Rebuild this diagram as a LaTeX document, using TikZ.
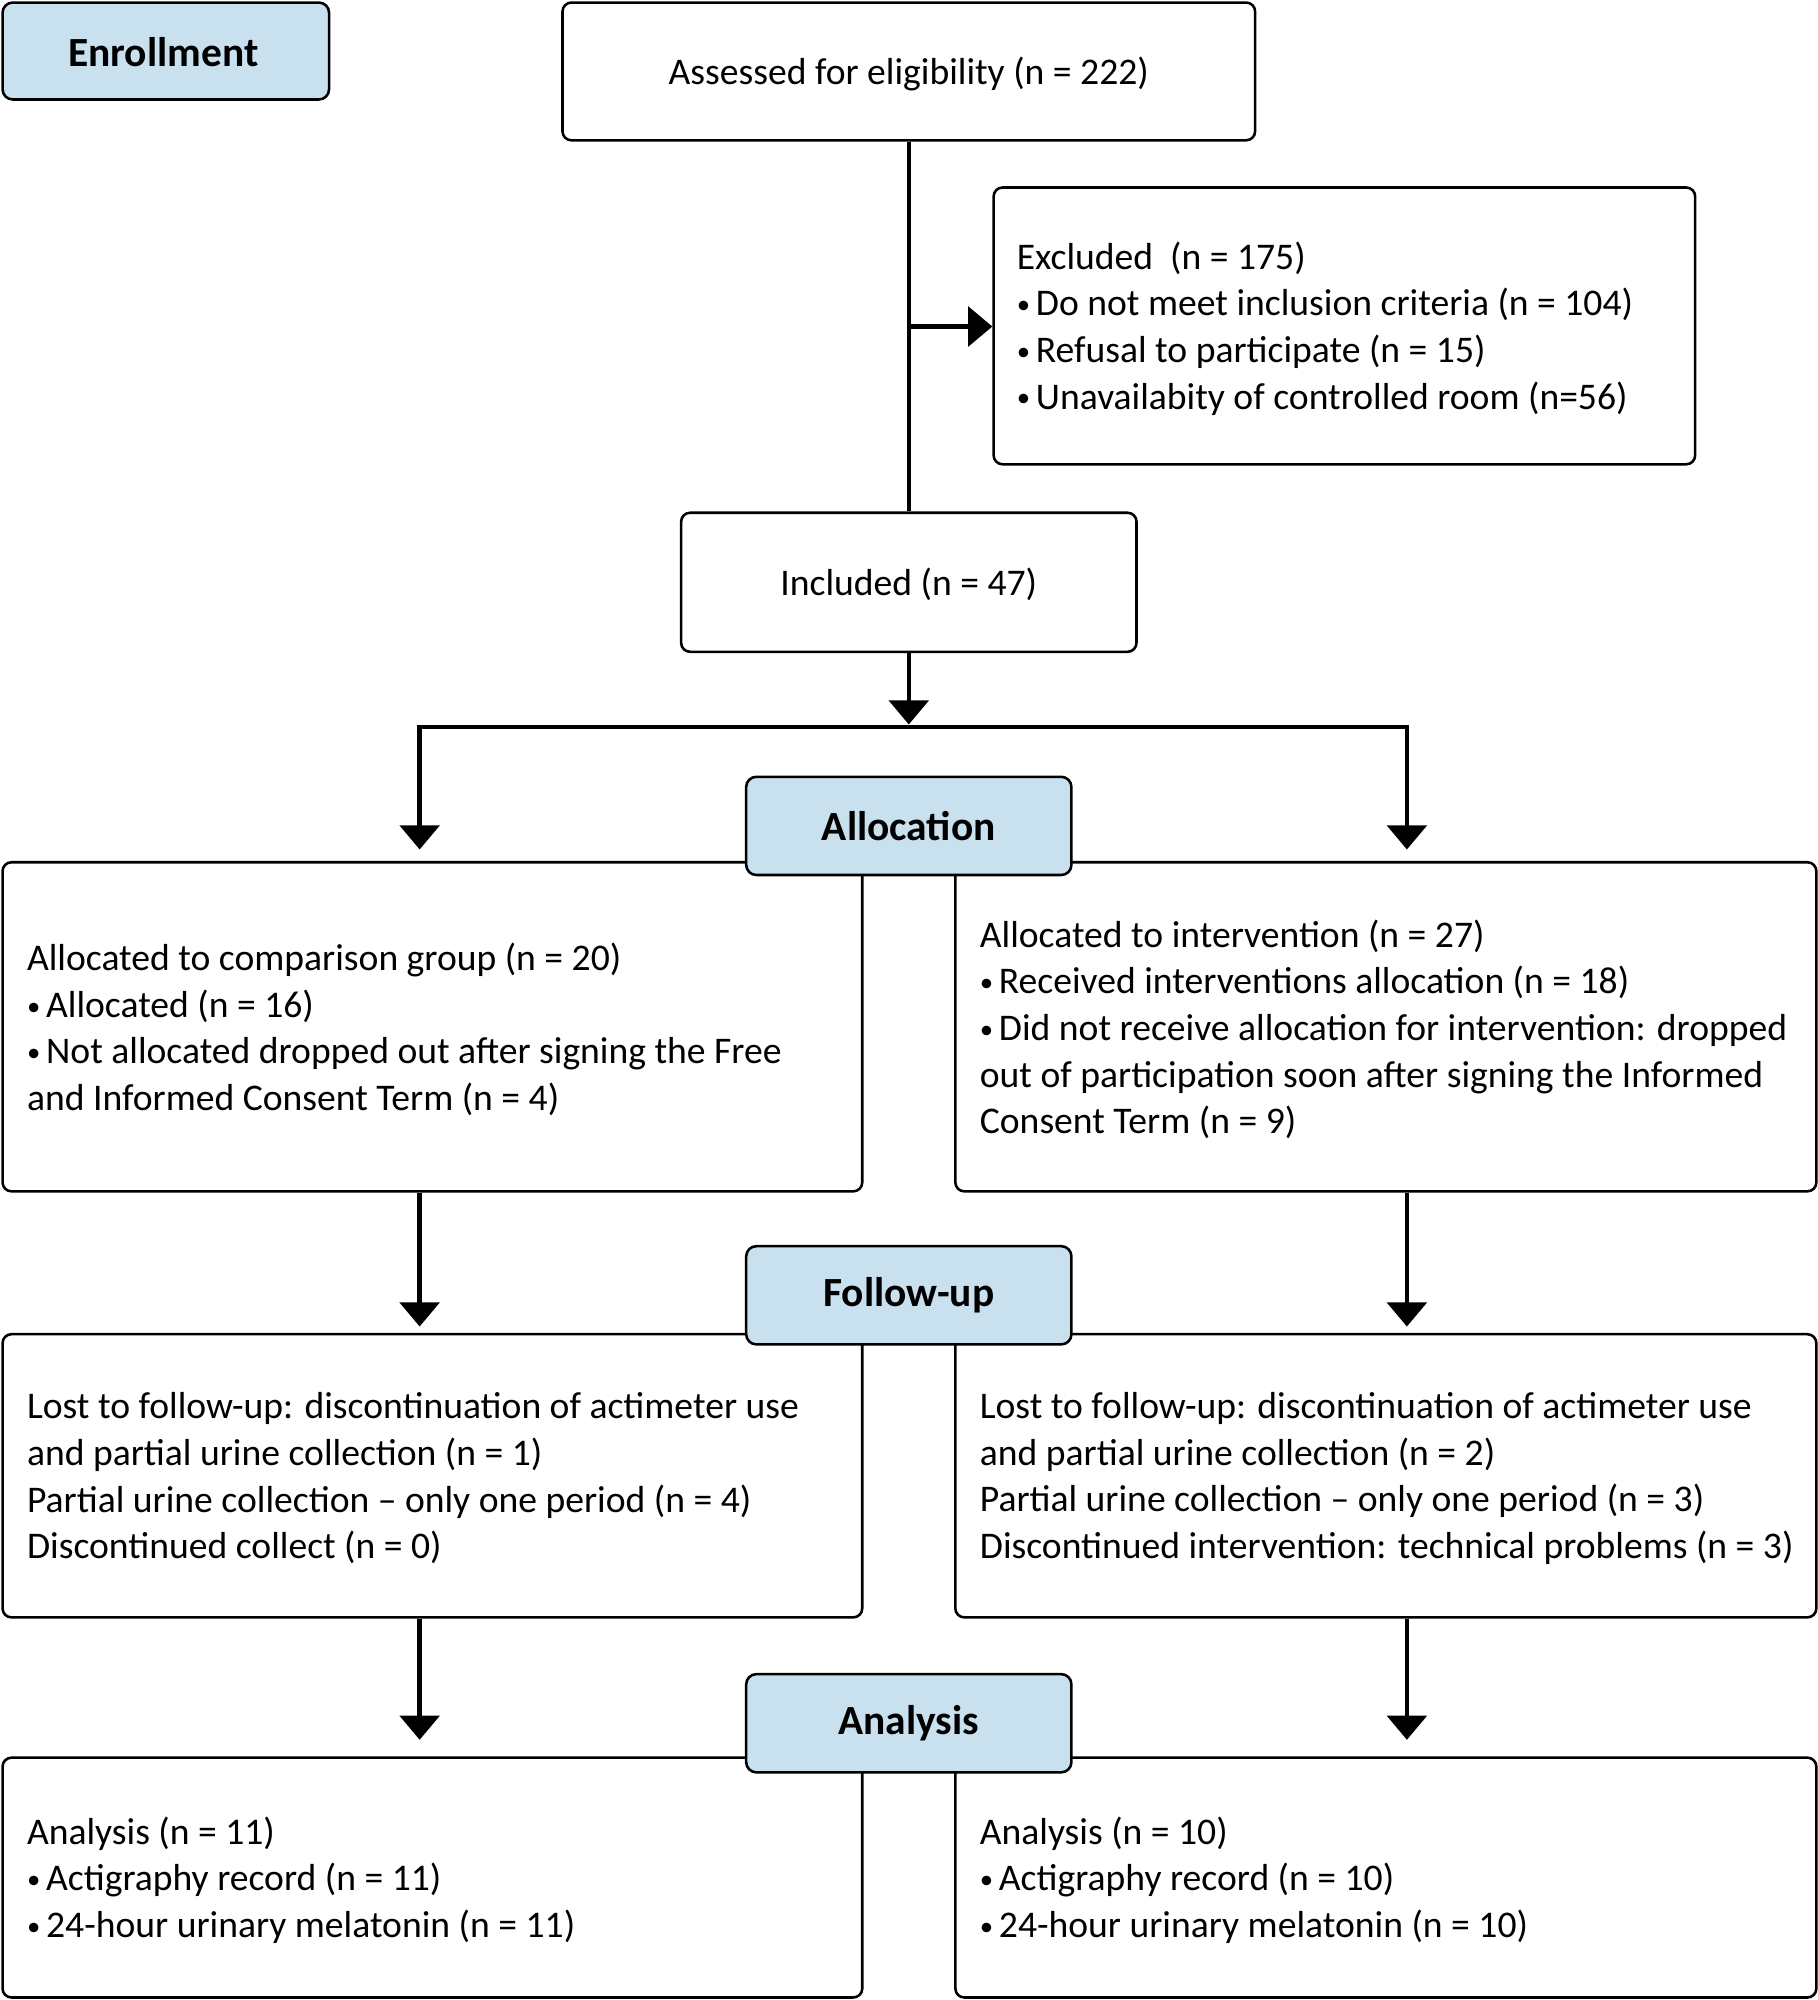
\documentclass[tikz,border=0pt]{standalone}
\usepackage{fontspec}
\setmainfont{Carlito}
\usetikzlibrary{arrows.meta}
\definecolor{lblue}{RGB}{201,225,238}
\newcommand{\bl}{\raisebox{1.6pt}{\fontsize{21}{21}\selectfont •}\hspace{4.5pt}}
\tikzset{
  box/.style={draw=black, line width=2pt, rounded corners=7pt, inner sep=0pt, fill=white},
  lbl/.style={draw=black, line width=2pt, rounded corners=8pt, fill=lblue, inner sep=0pt,
    minimum width=255pt, minimum height=77pt, font=\bfseries\fontsize{32.5}{36}\selectfont},
  txt/.style={align=left, inner sep=0pt, font=\fontsize{29.5}{36.5}\selectfont},
  conn/.style={line width=3.5pt},
  arr/.style={conn, -{Triangle[width=31pt,length=19pt]}},
  arrtwo/.style={conn, {Triangle[width=31pt,length=19pt]}-{Triangle[width=31pt,length=19pt]}},
}
\begin{document}
\begin{tikzpicture}[x=1pt,y=-1pt]
\useasboundingbox (0,0) rectangle (1425,1568);
\fill[white] (0,0) rectangle (1425,1568);

% enrollment stage
\node[lbl, minimum width=256pt, minimum height=76pt] (enr) at (130,40) {};
\node[lbl, draw=none, fill=none, minimum width=0pt, minimum height=0pt] (enrt) at ([xshift=-2pt,yshift=-1pt]enr.center) {Enrollment};
\node[box, minimum width=543pt, minimum height=108pt] (ass) at (712.5,56) {};
\node[txt] (asst) at ([yshift=-2pt]ass.center) {Assessed for eligibility (n = 222)};
\node[box, minimum width=550pt, minimum height=217pt] (exc) at (1054,255.5) {};
\node[txt, anchor=west] (exct) at ([xshift=19pt,yshift=-2pt]exc.west) {Excluded~~(n = 175)\\
\bl Do not meet inclusion criteria (n = 104)\\
\bl Refusal to participate (n = 15)\\
\bl Unavailabity of controlled room (n=56)};
\node[box, minimum width=357pt, minimum height=109pt] (inc) at (712.5,456.5) {};
\node[txt] (inct) at ([yshift=-2pt]inc.center) {Included (n = 47)};

% coordinates
\coordinate (brk) at (712.5,256);
\coordinate (hmid) at (712.5,570);
\coordinate (hin) at (712.5,568);
\coordinate (t1L) at (329,666);
\coordinate (t1R) at (1103,666);
\coordinate (t2L) at (329,1040);
\coordinate (t2R) at (1103,1040);
\coordinate (t3L) at (329,1364);
\coordinate (t3R) at (1103,1364);

\draw[conn] (ass.south) -- (inc.north);
\draw[arr] (brk) -- (brk -| exc.west);
\draw[arr] (inc.south) -- (hin);
\draw[arrtwo] (t1L) |- (hmid) -| (t1R);

% allocation stage
\node[box, minimum width=674pt, minimum height=258pt] (lb1) at (339,805) {};
\node[txt, anchor=west] (lb1t) at ([xshift=20pt,yshift=-2pt]lb1.west) {Allocated to comparison group (n = 20)\\
\bl Allocated (n = 16)\\
\bl Not allocated dropped out after signing the Free\\
and Informed Consent Term (n = 4)};
\node[box, minimum width=675pt, minimum height=258pt] (rb1) at (1086.5,805) {};
\node[txt, anchor=west] (rb1t) at ([xshift=20pt,yshift=-2pt]rb1.west) {Allocated to intervention (n = 27)\\
\bl Received interventions allocation (n = 18)\\
\bl Did not receive allocation for intervention: dropped\\
out of participation soon after signing the Informed\\
Consent Term (n = 9)};
\node[lbl] (alc) at (712.5,647.5) {Allocation};

\draw[arr] (lb1.south -| t2L) -- (t2L);
\draw[arr] (rb1.south -| t2R) -- (t2R);

% follow-up stage
\node[box, minimum width=674pt, minimum height=222pt] (lb2) at (339,1157) {};
\node[txt, anchor=west] (lb2t) at ([xshift=20pt,yshift=-2pt]lb2.west) {Lost to follow-up: discontinuation of actimeter use\\
and partial urine collection (n = 1)\\
Partial urine collection – only one period (n = 4)\\
Discontinued collect (n = 0)};
\node[box, minimum width=675pt, minimum height=222pt] (rb2) at (1086.5,1157) {};
\node[txt, anchor=west] (rb2t) at ([xshift=20pt,yshift=-2pt]rb2.west) {Lost to follow-up: discontinuation of actimeter use\\
and partial urine collection (n = 2)\\
Partial urine collection – only one period (n = 3)\\
Discontinued intervention: technical problems (n = 3)};
\node[lbl] (fup) at (712.5,1015.5) {Follow-up};

\draw[arr] (lb2.south -| t3L) -- (t3L);
\draw[arr] (rb2.south -| t3R) -- (t3R);

% analysis stage
\node[box, minimum width=674pt, minimum height=188pt] (lb3) at (339,1472) {};
\node[txt, anchor=west] (lb3t) at ([xshift=20pt,yshift=-2pt]lb3.west) {Analysis (n = 11)\\
\bl Actigraphy record (n = 11)\\
\bl 24-hour urinary melatonin (n = 11)};
\node[box, minimum width=675pt, minimum height=188pt] (rb3) at (1086.5,1472) {};
\node[txt, anchor=west] (rb3t) at ([xshift=20pt,yshift=-2pt]rb3.west) {Analysis (n = 10)\\
\bl Actigraphy record (n = 10)\\
\bl 24-hour urinary melatonin (n = 10)};
\node[lbl] (ana) at (712.5,1351) {Analysis};
\end{tikzpicture}
\end{document}
